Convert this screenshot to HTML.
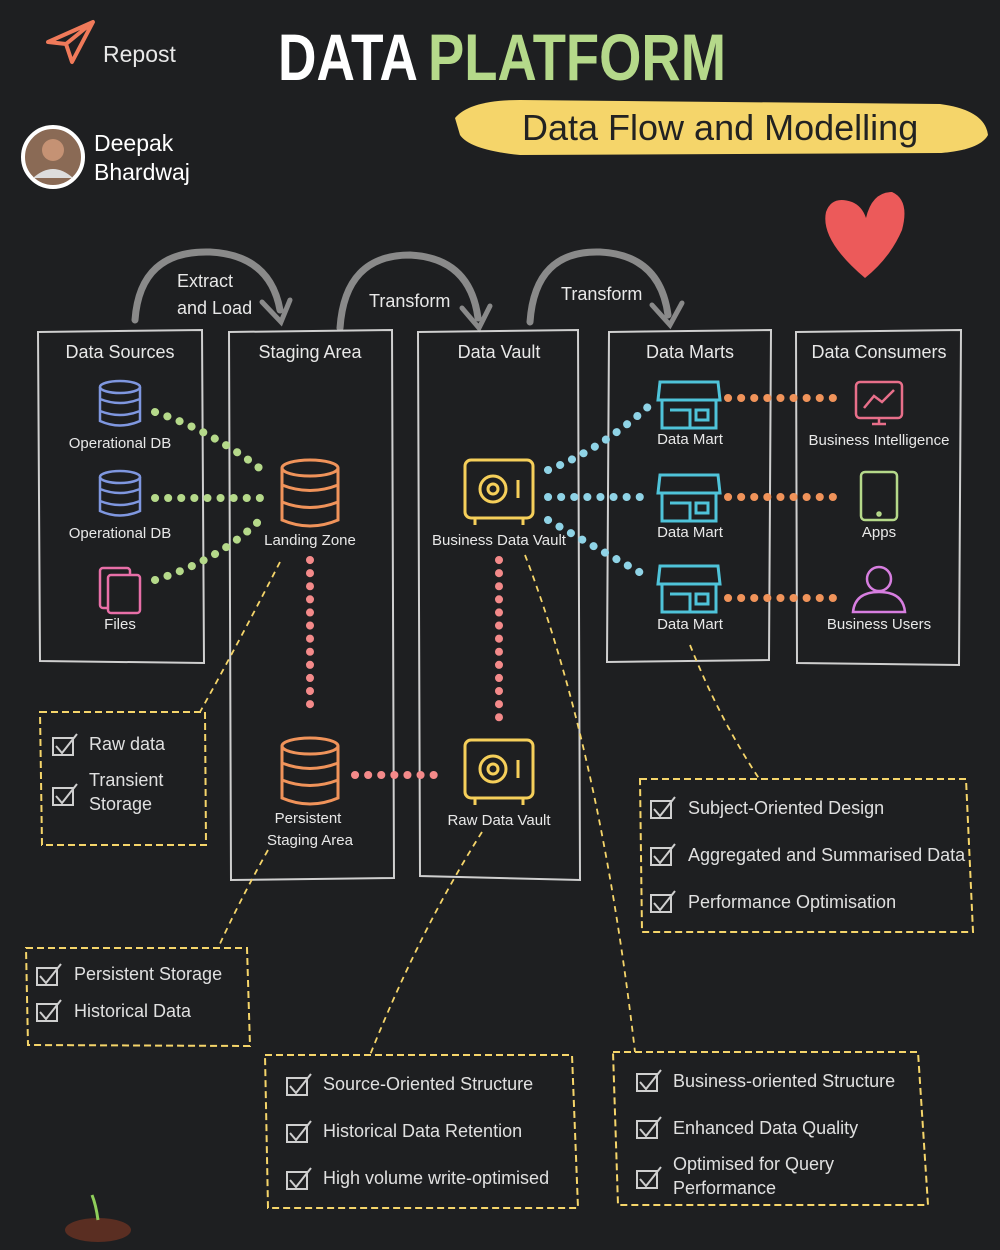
<!DOCTYPE html>
<html><head><meta charset="utf-8"><style>
html,body{margin:0;padding:0;background:#1e1f21;}
svg{display:block}
text{font-family:"Liberation Sans",sans-serif;}
</style></head><body>
<svg width="1000" height="1250" viewBox="0 0 1000 1250" xmlns="http://www.w3.org/2000/svg">
<defs>
<g id="cb"><rect x="0" y="-14" width="20" height="17"/><path d="M3 -6 L9 1 L24 -18"/></g>
</defs>
<rect width="1000" height="1250" fill="#1e1f21"/>
<!-- repost -->
<path d="M48 42 L93 22 L72 62 L66 44 Z M66 44 L93 22" fill="none" stroke="#f07a5a" stroke-width="4" stroke-linejoin="round"/>
<text x="103" y="62" fill="#e8e8e8" font-size="23">Repost</text>
<!-- title -->
<text x="278" y="80" fill="#ffffff" font-size="66" font-weight="bold" textLength="140" lengthAdjust="spacingAndGlyphs">DATA</text>
<text x="428" y="80" fill="#b5d98a" font-size="66" font-weight="bold" textLength="298" lengthAdjust="spacingAndGlyphs">PLATFORM</text>
<!-- banner -->
<path d="M455 118 Q470 100 520 100 L940 104 Q985 110 988 135 Q980 150 940 153 L520 155 Q470 150 460 135 Z" fill="#f5d56a"/>
<text x="522" y="140" fill="#222" font-size="36">Data Flow and Modelling</text>
<!-- avatar -->
<circle cx="53" cy="157" r="30" fill="#8a6a55" stroke="#fff" stroke-width="4"/>
<circle cx="53" cy="150" r="11" fill="#c59274"/>
<path d="M33 178 Q53 160 73 178" fill="#ddd"/>
<text x="94" y="151" fill="#fff" font-size="23">Deepak</text>
<text x="94" y="180" fill="#fff" font-size="23">Bhardwaj</text>
<!-- heart -->
<path d="M865 278 Q820 240 826 212 Q832 195 852 202 Q862 206 866 218 Q872 192 892 192 Q910 200 902 230 Q890 258 865 278 Z" fill="#ec5a5a"/>
<!-- arcs -->
<g fill="none" stroke="#8a8a8a" stroke-width="7" stroke-linecap="round">
<path d="M135 320 Q140 250 210 252 Q270 255 280 310"/>
<path d="M340 328 Q345 255 410 255 Q470 258 478 318"/>
<path d="M530 322 Q535 250 600 252 Q660 255 668 315"/>
</g>
<g fill="none" stroke="#8a8a8a" stroke-width="5" stroke-linecap="round">
<path d="M262 302 L281 322 L290 300"/>
<path d="M462 308 L479 328 L490 306"/>
<path d="M652 305 L670 325 L682 303"/>
</g>
<g fill="#e8e8e8" font-size="18">
<text x="177" y="287">Extract</text><text x="177" y="314">and Load</text>
<text x="369" y="307">Transform</text>
<text x="561" y="300">Transform</text>
</g>
<!-- columns -->
<g fill="none" stroke="#cfcfcf" stroke-width="2">
<path d="M38 332 L202 330 L204 663 L40 661 Z"/>
<path d="M229 332 L392 330 L394 878 L231 880 Z"/>
<path d="M418 332 L578 330 L580 880 L420 876 Z"/>
<path d="M609 332 L771 330 L769 660 L607 662 Z"/>
<path d="M796 332 L961 330 L959 665 L797 663 Z"/>
</g>
<g fill="#e8e8e8" font-size="18" text-anchor="middle">
<text x="120" y="358">Data Sources</text>
<text x="310" y="358">Staging Area</text>
<text x="499" y="358">Data Vault</text>
<text x="690" y="358">Data Marts</text>
<text x="879" y="358">Data Consumers</text>
</g>
<!-- db icons blue -->
<g fill="none" stroke="#7f97e0" stroke-width="2.5">
<ellipse cx="120" cy="387" rx="20" ry="6"/><path d="M100 387 V421 Q120 430 140 421 V387 M100 399 Q120 407 140 399 M100 411 Q120 419 140 411"/>
<ellipse cx="120" cy="477" rx="20" ry="6"/><path d="M100 477 V511 Q120 520 140 511 V477 M100 489 Q120 497 140 489 M100 501 Q120 509 140 501"/>
</g>
<g fill="none" stroke="#e86fa8" stroke-width="2.5"><rect x="100" y="568" width="30" height="40" rx="3"/><rect x="108" y="575" width="32" height="38" rx="3" fill="#1e1f21"/></g>
<g fill="#e8e8e8" font-size="15" text-anchor="middle">
<text x="120" y="448">Operational DB</text><text x="120" y="538">Operational DB</text><text x="120" y="629">Files</text>
</g>
<!-- landing / persistent db orange -->
<g fill="none" stroke="#f0935a" stroke-width="3">
<ellipse cx="310" cy="468" rx="28" ry="8"/><path d="M282 468 V520 Q310 532 338 520 V468 M282 485 Q310 496 338 485 M282 502 Q310 513 338 502"/>
<ellipse cx="310" cy="746" rx="28" ry="8"/><path d="M282 746 V798 Q310 810 338 798 V746 M282 763 Q310 774 338 763 M282 780 Q310 791 338 780"/>
</g>
<g fill="#e8e8e8" font-size="15" text-anchor="middle">
<text x="310" y="545">Landing Zone</text><text x="308" y="823">Persistent</text><text x="310" y="845">Staging Area</text>
</g>
<!-- vaults yellow -->
<g fill="none" stroke="#f5cf5a" stroke-width="3">
<rect x="465" y="460" width="68" height="58" rx="6"/><circle cx="493" cy="489" r="13"/><circle cx="493" cy="489" r="5"/><path d="M518 480 V498 M475 518 v7 M523 518 v7"/>
<rect x="465" y="740" width="68" height="58" rx="6"/><circle cx="493" cy="769" r="13"/><circle cx="493" cy="769" r="5"/><path d="M518 760 V778 M475 798 v7 M523 798 v7"/>
</g>
<g fill="#e8e8e8" font-size="15" text-anchor="middle">
<text x="499" y="545">Business Data Vault</text><text x="499" y="825">Raw Data Vault</text>
</g>
<!-- stores cyan -->
<g fill="none" stroke="#4fc3d9" stroke-width="3">
<path d="M660 382 H718 L720 400 H658 Z M662 400 V428 H716 V400 M670 410 H690 V428 M696 410 H708 V420 H696 Z"/>
<path d="M660 475 H718 L720 493 H658 Z M662 493 V521 H716 V493 M670 503 H690 V521 M696 503 H708 V513 H696 Z"/>
<path d="M660 566 H718 L720 584 H658 Z M662 584 V612 H716 V584 M670 594 H690 V612 M696 594 H708 V604 H696 Z"/>
</g>
<g fill="#e8e8e8" font-size="15" text-anchor="middle">
<text x="690" y="444">Data Mart</text><text x="690" y="537">Data Mart</text><text x="690" y="629">Data Mart</text>
</g>
<!-- consumers -->
<g fill="none" stroke-width="2.5">
<rect x="856" y="382" width="46" height="36" rx="4" stroke="#e86f8a"/><path d="M864 408 L874 396 L882 402 L894 390 M872 424 H886 M879 418 V424" stroke="#e86f8a"/>
<rect x="861" y="472" width="36" height="48" rx="4" stroke="#b5d98a"/><circle cx="879" cy="514" r="1.5" stroke="#b5d98a"/>
<circle cx="879" cy="579" r="12" stroke="#d77ee0"/><path d="M853 612 Q855 592 879 592 Q903 592 905 612 Z" stroke="#d77ee0"/>
</g>
<g fill="#e8e8e8" font-size="15" text-anchor="middle">
<text x="879" y="445">Business Intelligence</text><text x="879" y="537">Apps</text><text x="879" y="629">Business Users</text>
</g>
<!-- dotted connectors -->
<g fill="none" stroke-linecap="round" stroke-width="8" stroke-dasharray="0.1 13">
<path d="M155 412 Q210 430 262 470" stroke="#b5d98a"/>
<path d="M155 498 H265" stroke="#b5d98a"/>
<path d="M155 580 Q220 560 262 518" stroke="#b5d98a"/>
<path d="M310 560 V715" stroke="#f48a8a"/>
<path d="M355 775 H445" stroke="#f48a8a"/>
<path d="M499 560 V728" stroke="#f48a8a"/>
<path d="M548 470 Q600 450 650 405" stroke="#8fd3e6"/>
<path d="M548 497 H650" stroke="#8fd3e6"/>
<path d="M548 520 Q600 550 650 578" stroke="#8fd3e6"/>
<path d="M728 398 H840" stroke="#f0935a"/>
<path d="M728 497 H840" stroke="#f0935a"/>
<path d="M728 598 H840" stroke="#f0935a"/>
</g>
<!-- dashed leaders -->
<g fill="none" stroke="#f5d56a" stroke-width="1.8" stroke-dasharray="6 5">
<path d="M280 562 Q240 640 200 712"/>
<path d="M268 850 Q240 900 218 948"/>
<path d="M482 832 Q420 930 370 1055"/>
<path d="M525 555 Q600 750 635 1052"/>
<path d="M690 645 Q720 720 760 780"/>
</g>
<!-- dashed boxes -->
<g fill="none" stroke="#f5d56a" stroke-width="2" stroke-dasharray="7 4">
<path d="M40 712 L205 712 L206 845 L42 845 Z"/>
<path d="M26 948 L247 948 L250 1046 L28 1045 Z"/>
<path d="M265 1055 L572 1055 L578 1208 L268 1208 Z"/>
<path d="M613 1052 L918 1052 L928 1205 L618 1205 Z"/>
<path d="M640 779 L966 779 L973 932 L642 932 Z"/>
</g>
<g fill="none" stroke="#cfcfcf" stroke-width="2">
<use href="#cb" x="53" y="752"/><use href="#cb" x="53" y="802"/>
<use href="#cb" x="37" y="982"/><use href="#cb" x="37" y="1018"/>
<use href="#cb" x="287" y="1092"/><use href="#cb" x="287" y="1139"/><use href="#cb" x="287" y="1186"/>
<use href="#cb" x="637" y="1088"/><use href="#cb" x="637" y="1135"/><use href="#cb" x="637" y="1185"/>
<use href="#cb" x="651" y="815"/><use href="#cb" x="651" y="862"/><use href="#cb" x="651" y="909"/>
</g>
<g fill="#e0e0e0" font-size="18">
<text x="89" y="750">Raw data</text><text x="89" y="786">Transient</text><text x="89" y="810">Storage</text>
<text x="74" y="980">Persistent Storage</text><text x="74" y="1017">Historical Data</text>
<text x="323" y="1090">Source-Oriented Structure</text><text x="323" y="1137">Historical Data Retention</text><text x="323" y="1184">High volume write-optimised</text>
<text x="673" y="1087">Business-oriented Structure</text><text x="673" y="1134">Enhanced Data Quality</text><text x="673" y="1170">Optimised for Query</text><text x="673" y="1194">Performance</text>
<text x="688" y="814">Subject-Oriented Design</text><text x="688" y="861">Aggregated and Summarised Data</text><text x="688" y="908">Performance Optimisation</text>
</g>
<!-- plant -->
<ellipse cx="98" cy="1230" rx="33" ry="12" fill="#5a2e22"/>
<path d="M98 1220 Q96 1205 92 1195" stroke="#8fce5a" stroke-width="3" fill="none"/>
</svg>
</body></html>
